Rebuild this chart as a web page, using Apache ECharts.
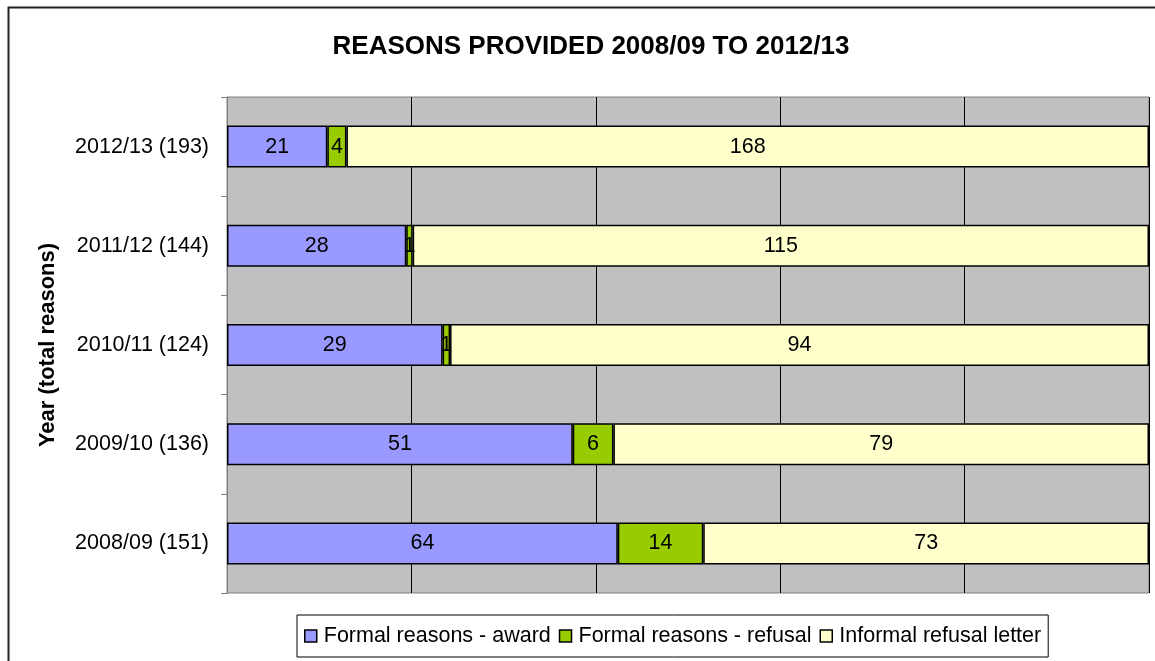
<!DOCTYPE html>
<html>
<head>
<meta charset="utf-8">
<script src="https://cdn.jsdelivr.net/npm/echarts@6/dist/echarts.min.js"></script>
<style>html,body{margin:0;padding:0;background:#fff}#c{width:1155px;height:661px}</style>
</head>
<body>
<div id="c"></div>
<script>
const categories = ['2008/09 (151)', '2009/10 (136)', '2010/11 (124)', '2011/12 (144)', '2012/13 (193)'];
const seriesNames = ['Formal reasons - award', 'Formal reasons - refusal', 'Informal refusal letter'];
const award = [64, 51, 29, 28, 21];
const refusal = [14, 6, 1, 1, 4];
const informal = [73, 79, 94, 115, 168];
const colors = ['#9999FF', '#99CC00', '#FFFFCC'];

const all = [award, refusal, informal];
const totals = categories.map((c, i) => award[i] + refusal[i] + informal[i]);

const FONT = 'Arial, "Liberation Sans", sans-serif';
const chart = echarts.init(document.getElementById('c'));
chart.setOption({
  animation: false,
  backgroundColor: '#fff',
  title: {
    text: 'REASONS PROVIDED 2008/09 TO 2012/13',
    left: 586, top: 29, textAlign: 'center',
    textStyle: { fontFamily: FONT, fontSize: 26, fontWeight: 'bold', color: '#000' }
  },
  graphic: [{
    type: 'rect', left: 6, top: 5, silent: true,
    shape: { width: 1200, height: 700 },
    style: { fill: 'none', stroke: '#222', lineWidth: 2 }
  }],
  grid: {
    left: 227, right: 6, top: 97, bottom: 68,
    show: true, backgroundColor: '#C0C0C0', borderColor: '#808080', borderWidth: 1
  },
  legend: {
    bottom: 4, left: 297,
    data: seriesNames,
    icon: 'rect', itemWidth: 12, itemHeight: 12, itemGap: 8,
    padding: [10, 7, 10, 7],
    borderColor: '#000', borderWidth: 1,
    itemStyle: { borderColor: '#000', borderWidth: 1.5 },
    textStyle: { fontFamily: FONT, fontSize: 21.5, color: '#000', padding: [0, 0, 0, 2] }
  },
  xAxis: {
    type: 'value', min: 0, max: 100, interval: 20,
    axisLabel: { show: false }, axisLine: { show: false }, axisTick: { show: false },
    splitLine: { show: true, lineStyle: { color: '#000', width: 1 } }
  },
  yAxis: {
    type: 'category', data: categories,
    name: 'Year (total reasons)', nameLocation: 'middle', nameGap: 168, nameRotate: 90,
    nameTextStyle: { fontFamily: FONT, fontSize: 22, fontWeight: 'bold', color: '#000' },
    axisLine: { show: true, lineStyle: { color: '#808080', width: 1 } },
    axisTick: { show: true, inside: false, length: 6, alignWithLabel: false, lineStyle: { color: '#808080' } },
    axisLabel: { fontFamily: FONT, fontSize: 21.5, color: '#000', margin: 18 },
    splitLine: { show: false }
  },
  series: all.map((arr, si) => ({
    name: seriesNames[si],
    type: 'bar', stack: 'total', barWidth: 42,
    itemStyle: { color: colors[si], borderColor: '#000', borderWidth: 1.5 },
    label: {
      show: true, position: 'inside', color: '#000',
      fontFamily: FONT, fontSize: 21.5,
      formatter: p => String(p.data.raw)
    },
    data: arr.map((v, i) => ({ value: v / totals[i] * 100, raw: v }))
  }))
});
</script>
</body>
</html>
